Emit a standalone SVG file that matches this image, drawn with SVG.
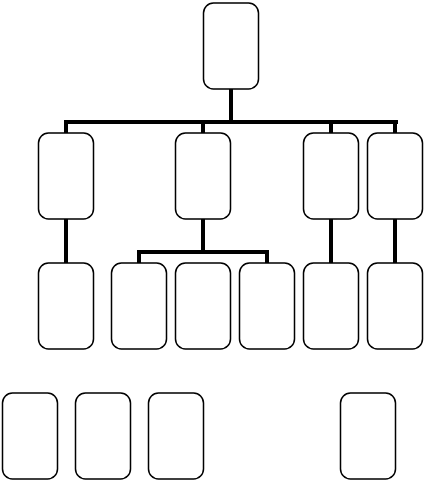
<svg xmlns="http://www.w3.org/2000/svg" width="424" height="481" viewBox="0 0 424 481">
<style>
.n{fill:#fff;stroke:#000;stroke-width:1.5}
.c{fill:none;stroke:#000;stroke-width:4;stroke-linecap:butt}
</style>
<rect width="424" height="481" fill="#fff"/>
<g id="connectors">
<path class="c" d="M231 89V122M64 122H398M66 122V133M203 122V133M331 122V133M395 122V133"/>
<path class="c" d="M66 219V263M203 219V252M137 252H269M139 252V263M267 252V263M331 219V263M395 219V263"/>
</g>
<g id="n0"><rect class="n" x="203.5" y="3" width="55" height="86" rx="10"/></g>
<g id="n1"><rect class="n" x="38.5" y="133" width="55" height="86" rx="10"/></g>
<g id="n2"><rect class="n" x="175.5" y="133" width="55" height="86" rx="10"/></g>
<g id="n3"><rect class="n" x="303.5" y="133" width="55" height="86" rx="10"/></g>
<g id="n4"><rect class="n" x="367.5" y="133" width="55" height="86" rx="10"/></g>
<g id="n5"><rect class="n" x="38.5" y="263" width="55" height="86" rx="10"/></g>
<g id="n6"><rect class="n" x="111.5" y="263" width="55" height="86" rx="10"/></g>
<g id="n7"><rect class="n" x="175.5" y="263" width="55" height="86" rx="10"/></g>
<g id="n8"><rect class="n" x="239.5" y="263" width="55" height="86" rx="10"/></g>
<g id="n9"><rect class="n" x="303.5" y="263" width="55" height="86" rx="10"/></g>
<g id="n10"><rect class="n" x="367.5" y="263" width="55" height="86" rx="10"/></g>
<g id="n11"><rect class="n" x="2.5" y="393" width="55" height="86" rx="10"/></g>
<g id="n12"><rect class="n" x="75.5" y="393" width="55" height="86" rx="10"/></g>
<g id="n13"><rect class="n" x="148.5" y="393" width="55" height="86" rx="10"/></g>
<g id="n14"><rect class="n" x="340.5" y="393" width="55" height="86" rx="10"/></g>
</svg>
